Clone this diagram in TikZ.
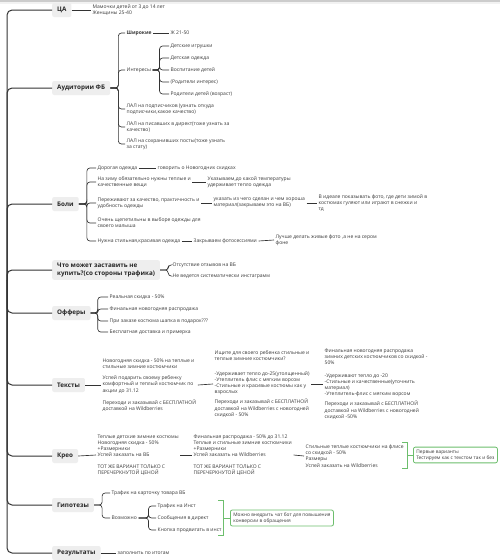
\documentclass[tikz,border=0pt]{standalone}
\usepackage{fontspec}
\setmainfont{Open Sans}
\definecolor{boxgray}{HTML}{EEEEEE}
\definecolor{linec}{HTML}{333333}
\definecolor{txtc}{HTML}{3A3A3A}
\definecolor{grn}{HTML}{6DBE6D}
\tikzset{
 topic/.style={fill=boxgray, rounded corners=2pt, font=\bfseries\fontsize{6.3}{7.6}\selectfont, text=black!85, inner xsep=5pt, inner ysep=3pt, minimum height=14pt, align=left, anchor=west},
 lbl/.style={font=\fontsize{5.0}{6.2}\selectfont, text=txtc, inner xsep=1.5pt, inner ysep=0.5pt, align=left, anchor=west},
 trunk/.style={draw=linec, line width=1pt, rounded corners=5pt},
 conn/.style={draw=linec, line width=0.65pt, rounded corners=3pt},
 gbox/.style={draw=grn, line width=0.8pt, rounded corners=2pt, fill=white, font=\fontsize{4.8}{6.2}\selectfont, text=txtc, inner xsep=3pt, inner ysep=2.5pt, align=left, anchor=west},
 gbr/.style={draw=grn, line width=0.8pt}
}
\newcommand\lnk[3][5pt]{\draw[conn] (#2.east) -- ++(#1,0) |- (#3.west);}
\begin{document}
\begin{tikzpicture}[x=1pt,y=-1pt]
\useasboundingbox (0,0) rectangle (500,560);
\fill[white] (0,0) rectangle (500,560);
\fill[gray!40] (0,0) rectangle (500,1.8);
\fill[gray!10] (0,1.8) rectangle (500,4);
% topics
\node[topic] (ca) at (52,10) {ЦА};
\node[topic] (aud) at (52,88) {Аудитории ФБ};
\node[topic] (bol) at (52,204) {Боли};
\node[topic] (chto) at (52,270) {Что может заставить не\\купить?(со стороны трафика)};
\node[topic] (off) at (52,313) {Офферы};
\node[topic] (tex) at (52,385) {Тексты};
\node[topic] (kre) at (52,456) {Крео};
\node[topic] (gip) at (52,505) {Гипотезы};
\node[topic] (res) at (52,553) {Результаты};
\foreach \n in {ca,aud,bol,chto,off,tex,kre,gip,res}{\draw[trunk] (7,280) |- (\n.west);}
% ЦА
\node[lbl] (ca1) at (91,10) {Мамочки детей от 3 до 14 лет\\Женщины 25-40};
\draw[conn] (ca.east) -- (ca1.west);
% Аудитории
\node[lbl,font=\bfseries\fontsize{5.0}{6.2}\selectfont] (shir) at (125,33) {Широкие};
\node[lbl] (zh) at (169,33) {Ж 21-50};
\node[lbl] (inter) at (125,70) {Интересы};
\node[lbl] (i1) at (169,46) {Детские игрушки};
\node[lbl] (i2) at (169,58) {Детская одежда};
\node[lbl] (i3) at (169,70) {Воспитание детей};
\node[lbl] (i4) at (169,82) {(Родители интерес)};
\node[lbl] (i5) at (169,94) {Родители детей (возраст)};
\node[lbl] (lal1) at (125,109) {ЛАЛ на подписчиков (узнать откуда\\подписчики,какое качество)};
\node[lbl] (lal2) at (125,127) {ЛАЛ на писавших в директ(тоже узнать за\\качество)};
\node[lbl] (lal3) at (125,144) {ЛАЛ на сохранивших посты(тоже узнать\\за стату)};
\foreach \c in {shir,inter,lal1,lal2,lal3}{\lnk[8pt]{aud}{\c}}
\draw[conn] (shir.east) -- (zh.west);
\foreach \c in {i1,i2,i3,i4,i5}{\lnk[7pt]{inter}{\c}}
% Боли
\node[lbl] (b1) at (96,168) {Дорогая одежда};
\node[lbl] (b1a) at (156,168) {говорить о Новогодних скидках};
\node[lbl] (b2) at (96,182) {На зиму обязательно нужны теплые и\\качественные вещи};
\node[lbl] (b2a) at (206,182) {Указываем,до какой температуры\\удерживает тепло одежда};
\node[lbl] (b3) at (96,203) {Переживают за качество, практичность и\\удобность одежды};
\node[lbl] (b3a) at (212,203) {указать из чего сделан и чем хороша\\материал(закрываем это на ВБ)};
\node[lbl] (b3b) at (317,203) {В идеале показывать фото, где дети зимой в\\костюмах гуляют или играют в снежки и\\тд};
\node[lbl] (b4) at (96,223) {Очень щепетильны в выборе одежды для\\своего малыша};
\node[lbl] (b5) at (96,241) {Нужна стильная,красивая одежда};
\node[lbl] (b5a) at (192,241) {Закрываем фотосессиями};
\node[lbl] (b5b) at (274,240) {Лучше делать живые фото ,а не на сером\\фоне};
\foreach \c in {b1,b2,b3,b4,b5}{\lnk[8pt]{bol}{\c}}
\draw[conn] (b1.east) -- (b1a.west);
\draw[conn] (b2.east) -- (b2a.west);
\draw[conn] (b3.east) -- (b3a.west);
\draw[conn] (b3a.east) -- (b3b.west);
\draw[conn] (b5.east) -- (b5a.west);
\draw[conn] (b5a.east) -- (b5b.west);
% Что может
\node[lbl] (w1) at (171,265) {Отсутствие отзывов на ВБ};
\node[lbl] (w2) at (171,276) {Не ведется систематически инстаграмм};
\foreach \c in {w1,w2}{\lnk[8pt]{chto}{\c}}
% Офферы
\node[lbl] (o1) at (108,297) {Реальная скидка - 50\%};
\node[lbl] (o2) at (108,309) {Финальная новогодняя распродажа};
\node[lbl] (o3) at (108,321) {При заказе костюма шапка в подарок???};
\node[lbl] (o4) at (108,332) {Бесплатная доставка и примерка};
\foreach \c in {o1,o2,o3,o4}{\lnk[7pt]{off}{\c}}
% Тексты
\node[lbl] (t1) at (101,385) {Новогодняя скидка - 50\% на теплые и\\стильные зимние костюмчики\\[5pt]Успей подарить своему ребенку\\комфортный и теплый костюмчик по\\акции до 31.12\\[6pt]Переходи и заказывай с БЕСПЛАТНОЙ\\доставкой на Wildberries};
\node[lbl] (t2) at (213,384) {Ищите для своего ребенка стильные и\\теплые зимние костюмчики?\\[8pt]-Удерживает тепло до-25(утолщенный)\\-Утеплитель флис с мягким ворсом\\-Стильные и красивые костюмы как у\\взрослых\\[4pt]Переходи  и заказывай с БЕСПЛАТНОЙ\\доставкой на  Wildberries с новогодней\\скидкой - 50\%};
\node[lbl] (t3) at (323,384) {Финальная новогодняя распродажа\\зимних детских костюмчиков со скидкой -\\50\%\\[6pt]-Удерживают тепло до -20\\-Стильные и качественные(уточнить\\материал)\\-Утеплитель-флис с мягким ворсом\\[4pt]Переходи и заказывай с БЕСПЛАТНОЙ\\доставкой на  Wildberries с новогодней\\скидкой -50\%};
\draw[conn] (tex.east) -- (t1.west);
\draw[conn] (t1.east) -- (t2.west);
\draw[conn] (t2.east) -- (t3.west);
% Крео
\node[lbl] (k1) at (96,455) {Теплые детские зимние костюмы\\Новогодняя скидка - 50\%\\+Размерники\\Успей заказать на ВБ\\[5pt]ТОТ ЖЕ ВАРИАНТ ТОЛЬКО С\\ПЕРЕЧЕРКНУТОЙ ЦЕНОЙ};
\node[lbl] (k2) at (192,455) {Финальная распродажа - 50\% до 31.12\\Теплые и стильные зимние костюмчики\\+Размерники\\Успей заказать на Wildberries\\[5pt]ТОТ ЖЕ ВАРИАНТ ТОЛЬКО С\\ПЕРЕЧЕРКНУТОЙ ЦЕНОЙ};
\node[lbl] (k3) at (304,456) {Стильные теплые костюмчики на флисе\\со скидкой - 50\%\\Размеры\\Успей заказать на Wildberries};
\draw[conn] (kre.east) -- (k1.west);
\draw[conn] (k1.east) -- (k2.west);
\draw[conn] (k2.east) -- (k3.west);
\node[gbox] (kg) at (413,455) {Первые варианты\\Тестируем как с текстом так и без};
\coordinate (kbm) at (407,455);
\draw[gbr] (402,442) -- (407,442) -- (407,468) -- (402,468);
\draw[gbr] (kbm) -- (kg.west);
% Гипотезы
\node[lbl] (g1) at (110,493) {Трафик на карточку товара ВБ};
\node[lbl] (g2) at (110,518) {Возможно};
\node[lbl] (g2a) at (156,506) {Трафик на Инст};
\node[lbl] (g2b) at (156,518) {Сообщения в директ};
\node[lbl] (g2c) at (156,530) {Кнопка продвигать в инст};
\foreach \c in {g1,g2}{\lnk[8pt]{gip}{\c}}
\foreach \c in {g2a,g2b,g2c}{\lnk[10pt]{g2}{\c}}
\node[gbox] (gg) at (230,518) {Можно внедрить чат бот для повышения\\конверсии в обращения};
\coordinate (gbm) at (223,518);
\draw[gbr] (218,500) -- (223,500) -- (223,535) -- (218,535);
\draw[gbr] (gbm) -- (gg.west);
% Результаты
\node[lbl] (r1) at (116,553) {заполнить по итогам};
\draw[conn] (res.east) -- (r1.west);
\end{tikzpicture}
\end{document}
